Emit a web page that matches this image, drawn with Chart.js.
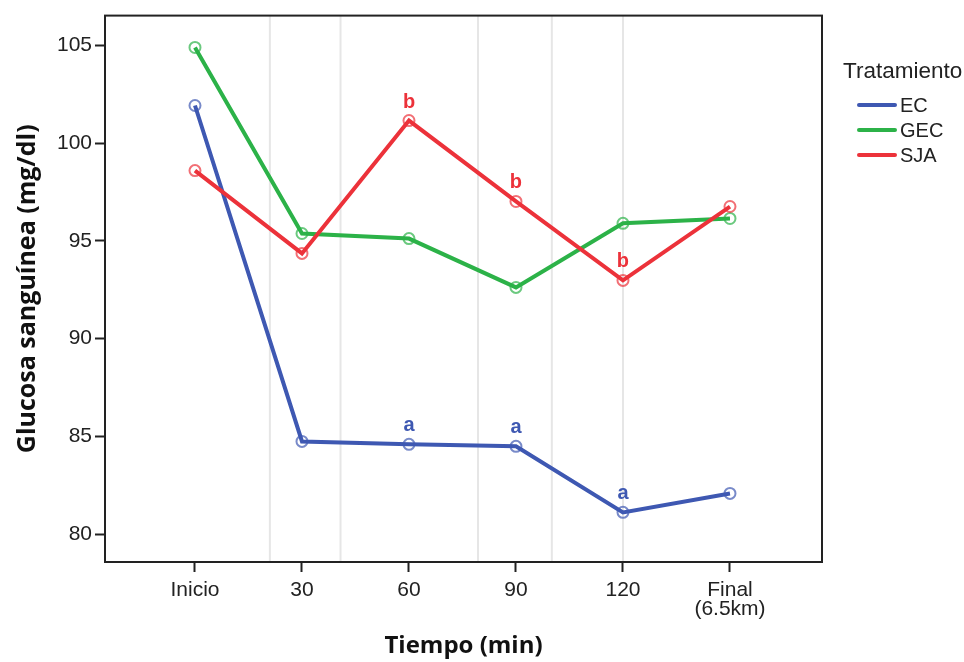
<!DOCTYPE html>
<html>
<head>
<meta charset="utf-8">
<script src="https://cdn.jsdelivr.net/npm/chart.js@4"></script>
<style>
  html, body { margin: 0; padding: 0; background: #fff; }
  #wrap { width: 964px; height: 662px; }
</style>
</head>
<body>
<div id="wrap"><canvas id="c" width="964" height="662"></canvas></div>
<script>
// ---- Data ----
const categories = ['Inicio', '30', '60', '90', '120', ['Final', '(6.5km)']];
const ecValues  = [101.93, 84.74, 84.59, 84.49, 81.11, 82.08];
const gecValues = [104.90, 95.38, 95.12, 92.62, 95.90, 96.15];
const sjaValues = [98.60, 94.36, 101.16, 97.02, 92.98, 96.76];
const ecLetters  = ['', '', 'a', 'a', 'a', ''];
const gecLetters = ['', '', '', '', '', ''];
const sjaLetters = ['', '', 'b', 'b', 'b', ''];
const seriesNames = ['EC', 'GEC', 'SJA'];
const yTicks = [80, 85, 90, 95, 100, 105];
const refLinesX = [0.70, 1.36, 2.645, 3.335, 4.0];

const BLUE = 'rgb(62,88,178)';
const GREEN = 'rgb(44,178,72)';
const RED = 'rgb(236,50,58)';

const Y_MIN = 78.57, Y_MAX = 106.53;

function pts(vals) { return vals.map((v, i) => ({ x: i, y: v })); }

function series(name, vals, color, ring, letters, order) {
  return {
    label: name,
    data: pts(vals),
    borderColor: color,
    backgroundColor: 'rgba(255,255,255,0)',
    borderWidth: 4,
    pointRadius: 5.5,
    pointBorderWidth: 2,
    pointBorderColor: ring,
    pointBackgroundColor: 'rgba(255,255,255,0)',
    tension: 0,
    letters: letters,
    order: order
  };
}

const datasets = [
  series(seriesNames[2], sjaValues, RED, 'rgba(236,50,58,0.7)', sjaLetters, 0),
  series(seriesNames[1], gecValues, GREEN, 'rgba(44,178,72,0.7)', gecLetters, 1),
  series(seriesNames[0], ecValues, BLUE, 'rgba(62,88,178,0.7)', ecLetters, 2)
];
refLinesX.forEach(xv => {
  datasets.push({
    label: '_ref',
    data: [{ x: xv, y: Y_MIN }, { x: xv, y: Y_MAX }],
    borderColor: '#e6e6e6',
    borderWidth: 2,
    pointRadius: 0,
    order: 10
  });
});

const letterPlugin = {
  id: 'letters',
  afterDatasetsDraw(chart) {
    const ctx = chart.ctx;
    chart.data.datasets.forEach((ds, di) => {
      if (!ds.letters) return;
      const meta = chart.getDatasetMeta(di);
      ctx.save();
      ctx.fillStyle = ds.borderColor;
      ctx.font = 'bold 20px "Liberation Sans", Arial, sans-serif';
      ctx.textAlign = 'center';
      ctx.textBaseline = 'alphabetic';
      ds.letters.forEach((t, i) => {
        if (!t) return;
        const p = meta.data[i];
        ctx.fillText(t, p.x, p.y - 13);
      });
      ctx.restore();
    });
  }
};

const framePlugin = {
  id: 'frame',
  afterDraw(chart) {
    const a = chart.chartArea;
    const ctx = chart.ctx;
    ctx.save();
    ctx.strokeStyle = '#222';
    ctx.lineWidth = 2;
    ctx.strokeRect(a.left, a.top, a.right - a.left, a.bottom - a.top);
    ctx.restore();
  }
};

const legendPlugin = {
  id: 'customLegend',
  afterDraw(chart) {
    const a = chart.chartArea;
    const ctx = chart.ctx;
    const x0 = a.right;
    ctx.save();
    ctx.fillStyle = '#222';
    ctx.textBaseline = 'middle';
    ctx.textAlign = 'left';
    ctx.font = '22.5px "Liberation Sans", Arial, sans-serif';
    ctx.fillText('Tratamiento', x0 + 21, 72);
    const items = [[seriesNames[0], BLUE], [seriesNames[1], GREEN], [seriesNames[2], RED]];
    ctx.font = '20px "Liberation Sans", Arial, sans-serif';
    items.forEach((it, i) => {
      const y = 105 + i * 25;
      ctx.strokeStyle = it[1];
      ctx.lineWidth = 4;
      ctx.lineCap = 'round';
      ctx.beginPath();
      ctx.moveTo(x0 + 37, y);
      ctx.lineTo(x0 + 73, y);
      ctx.stroke();
      ctx.fillStyle = '#222';
      ctx.fillText(it[0], x0 + 78, y + 1);
    });
    ctx.restore();
  }
};

new Chart(document.getElementById('c'), {
  type: 'line',
  data: { datasets: datasets },
  plugins: [letterPlugin, framePlugin, legendPlugin],
  options: {
    responsive: false,
    animation: false,
    devicePixelRatio: 1,
    layout: { padding: { top: 15, right: 142, left: 0, bottom: 0 } },
    plugins: { legend: { display: false }, tooltip: { enabled: false } },
    scales: {
      x: {
        type: 'linear',
        min: -0.841,
        max: 5.86,
        afterFit(scale) { scale.height = 100; },
        afterBuildTicks(scale) { scale.ticks = categories.map((c, i) => ({ value: i })); },
        ticks: {
          autoSkip: false,
          maxRotation: 0,
          padding: 9,
          color: '#222',
          font: { family: '"Liberation Sans", Arial, sans-serif', size: 21, lineHeight: 0.9 },
          callback: (v) => categories[v]
        },
        grid: { display: true, drawOnChartArea: false, drawTicks: true, tickLength: 10, tickColor: '#222', tickWidth: 2 },
        border: { display: true, color: '#222', width: 2 },
        title: {
          display: true,
          text: 'Tiempo (min)',
          color: '#111',
          font: { family: '"Open Sans", sans-serif', size: 24, weight: 'bold' },
          padding: { top: 0, bottom: 1 }
        }
      },
      y: {
        type: 'linear',
        min: Y_MIN,
        max: Y_MAX,
        afterFit(scale) { scale.width = 105; },
        afterBuildTicks(scale) { scale.ticks = yTicks.map(v => ({ value: v })); },
        ticks: {
          padding: 3,
          color: '#222',
          font: { family: '"Liberation Sans", Arial, sans-serif', size: 21 }
        },
        grid: { display: true, drawOnChartArea: false, drawTicks: true, tickLength: 10, tickColor: '#222', tickWidth: 2 },
        border: { display: true, color: '#222', width: 2 },
        title: {
          display: true,
          text: 'Glucosa sanguínea (mg/dl)',
          color: '#111',
          font: { family: '"Open Sans", sans-serif', size: 25, weight: 'bold' },
          padding: { top: 13, bottom: 0 }
        }
      }
    }
  }
});
</script>
</body>
</html>
